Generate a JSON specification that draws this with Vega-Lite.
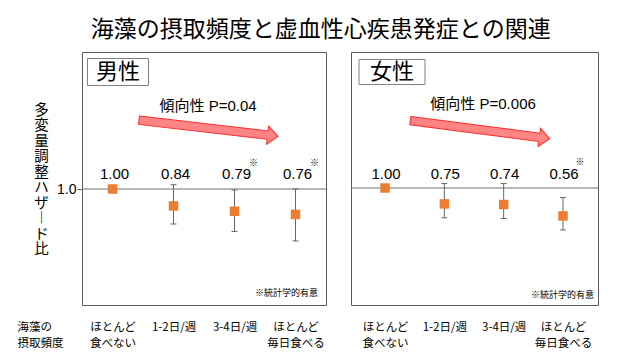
{
  "$schema": "https://vega.github.io/schema/vega-lite/v6.json",
  "padding": {"left": 16, "top": 18, "right": 5, "bottom": 5},
  "title": {"text": "海藻の摂取頻度と虚血性心疾患発症との関連", "fontSize": 23, "fontWeight": "normal", "font": "Noto Sans CJK JP", "color": "black", "anchor": "middle", "offset": 10, "dx": 13},
  "spacing": 23,
  "config": {"font": "Noto Sans CJK JP", "view": {"stroke": "#5a5a5a", "strokeWidth": 1}},
  "hconcat": [
    {
      "width": 244, "height": 253,
      "data": {"values": [
        {"idx": 1, "hr": 1.00, "lo": null, "hi": null, "sig": false},
        {"idx": 2, "hr": 0.84, "lo": 0.67, "hi": 1.04, "sig": false},
        {"idx": 3, "hr": 0.79, "lo": 0.60, "hi": 0.99, "sig": true},
        {"idx": 4, "hr": 0.76, "lo": 0.51, "hi": 1.00, "sig": true}
      ]},
      "layer": [
        {"data": {"values": [{"ref": 1}]}, "mark": {"type": "rule", "color": "#707070", "strokeWidth": 1},
         "encoding": {"y": {"field": "ref", "type": "quantitative", "scale": {"domain": [-0.0943, 2.2925], "nice": false, "zero": false}}}},
        {"mark": {"type": "rule", "color": "#666666", "strokeWidth": 1},
         "encoding": {"x": {"field": "idx", "type": "quantitative", "scale": {"domain": [0.5, 4.5], "nice": false, "zero": false}},
                      "y": {"field": "lo", "type": "quantitative", "scale": {"domain": [-0.0943, 2.2925], "nice": false, "zero": false}},
                      "y2": {"field": "hi"}}},
        {"mark": {"type": "point", "shape": "M-1,0L1,0", "size": 36, "filled": false, "color": "#666666", "strokeWidth": 1, "opacity": 1},
         "encoding": {"x": {"field": "idx", "type": "quantitative", "scale": {"domain": [0.5, 4.5], "nice": false, "zero": false}},
                      "y": {"field": "lo", "type": "quantitative", "scale": {"domain": [-0.0943, 2.2925], "nice": false, "zero": false}}}},
        {"mark": {"type": "point", "shape": "M-1,0L1,0", "size": 36, "filled": false, "color": "#666666", "strokeWidth": 1, "opacity": 1},
         "encoding": {"x": {"field": "idx", "type": "quantitative", "scale": {"domain": [0.5, 4.5], "nice": false, "zero": false}},
                      "y": {"field": "hi", "type": "quantitative", "scale": {"domain": [-0.0943, 2.2925], "nice": false, "zero": false}}}},
        {"mark": {"type": "point", "shape": "square", "size": 90, "filled": true, "color": "#ED7D31", "opacity": 1},
         "encoding": {
           "x": {"field": "idx", "type": "quantitative", "scale": {"domain": [0.5, 4.5], "nice": false, "zero": false},
                 "axis": {"values": [1, 2, 3, 4], "labelExpr": "[['ほとんど','食べない'],'1-2日/週','3-4日/週',['ほとんど','毎日食べる']][datum.value-1]",
                          "labelFont": "Noto Sans CJK JP", "labelFontSize": 11.5, "labelLineHeight": 16.5, "labelColor": "black", "labelPadding": 16, "labelFlush": false, "labelOverlap": false, "labelBound": false,
                          "ticks": false, "tickSize": 0, "domain": false, "grid": false,
                          "title": ["海藻の", "摂取頻度"], "titleX": -65, "titleY": 16, "titleAlign": "left", "titleBaseline": "top", "titleFont": "Noto Sans CJK JP", "titleFontSize": 11.5, "titleFontWeight": "normal", "titleLineHeight": 16.5, "titleColor": "black"}},
           "y": {"field": "hr", "type": "quantitative", "scale": {"domain": [-0.0943, 2.2925], "nice": false, "zero": false},
                 "axis": {"values": [1], "format": ".1f", "labelFont": "Liberation Sans", "labelFontSize": 14, "labelColor": "black", "labelPadding": 1, "tickSize": 5, "tickColor": "#666666", "domain": false, "grid": false,
                          "title": ["多", "変", "量", "調", "整", "ハ", "ザ", "︱", "ド", "比"], "titleAngle": 0, "titleX": -41, "titleY": 58, "titleBaseline": "middle", "titleAlign": "center", "titleFont": "Noto Sans CJK JP", "titleFontSize": 14.5, "titleLineHeight": 15.5, "titleFontWeight": "normal", "titleColor": "black"}}}},
        {"mark": {"type": "text", "font": "Liberation Sans", "fontSize": 15, "color": "black", "baseline": "middle", "align": "center", "dx": 2},
         "encoding": {"x": {"field": "idx", "type": "quantitative", "scale": {"domain": [0.5, 4.5], "nice": false, "zero": false}},
                      "y": {"datum": 1.1415, "type": "quantitative", "scale": {"domain": [-0.0943, 2.2925], "nice": false, "zero": false}},
                      "text": {"field": "hr", "type": "quantitative", "format": ".2f"}}},
        {"transform": [{"filter": "datum.sig"}],
         "mark": {"type": "text", "fontSize": 9, "color": "black", "baseline": "middle", "align": "center", "dx": 19, "dy": -11},
         "encoding": {"x": {"field": "idx", "type": "quantitative", "scale": {"domain": [0.5, 4.5], "nice": false, "zero": false}},
                      "y": {"datum": 1.1415, "type": "quantitative", "scale": {"domain": [-0.0943, 2.2925], "nice": false, "zero": false}},
                      "text": {"value": "※"}}},
        {"data": {"values": [{"sex": "男性"}]},
         "mark": {"type": "point", "shape": "M-1,-0.443H1V0.443H-1Z", "size": 3721, "filled": true, "fill": "white", "stroke": "#808080", "strokeWidth": 1, "opacity": 1},
         "encoding": {"x": {"datum": 1.09, "type": "quantitative", "scale": {"domain": [0.5, 4.5], "nice": false, "zero": false}},
                      "y": {"datum": 2.104, "type": "quantitative", "scale": {"domain": [-0.0943, 2.2925], "nice": false, "zero": false}}}},
        {"data": {"values": [{"sex": "男性"}]},
         "mark": {"type": "text", "fontSize": 22, "color": "black", "baseline": "middle", "align": "center"},
         "encoding": {"x": {"datum": 1.09, "type": "quantitative", "scale": {"domain": [0.5, 4.5], "nice": false, "zero": false}},
                      "y": {"datum": 2.104, "type": "quantitative", "scale": {"domain": [-0.0943, 2.2925], "nice": false, "zero": false}},
                      "text": {"field": "sex"}}},
        {"data": {"values": [{"trend": "傾向性 P=0.04"}]},
         "mark": {"type": "point", "shape": "M-1,-0.06L0.85,-0.06L0.85,-0.13L1,0L0.85,0.13L0.85,0.06L-1,0.06Z", "size": 19600, "angle": 6.6, "filled": true, "fill": "#FF8585", "stroke": "#FF2A2A", "strokeWidth": 1, "opacity": 1},
         "encoding": {"x": {"datum": 2.574, "type": "quantitative", "scale": {"domain": [0.5, 4.5], "nice": false, "zero": false}},
                      "y": {"datum": 1.5726, "type": "quantitative", "scale": {"domain": [-0.0943, 2.2925], "nice": false, "zero": false}}}},
        {"data": {"values": [{"trend": "傾向性 P=0.04"}]},
         "mark": {"type": "text", "font": "Liberation Sans, Noto Sans CJK JP", "fontSize": 15, "color": "black", "baseline": "middle", "align": "center"},
         "encoding": {"x": {"datum": 2.566, "type": "quantitative", "scale": {"domain": [0.5, 4.5], "nice": false, "zero": false}},
                      "y": {"datum": 1.783, "type": "quantitative", "scale": {"domain": [-0.0943, 2.2925], "nice": false, "zero": false}},
                      "text": {"field": "trend"}}},
        {"data": {"values": [{"note": "※統計学的有意"}]},
         "mark": {"type": "text", "fontSize": 9, "color": "black", "baseline": "middle", "align": "right"},
         "encoding": {"x": {"datum": 4.369, "type": "quantitative", "scale": {"domain": [0.5, 4.5], "nice": false, "zero": false}},
                      "y": {"datum": 0.019, "type": "quantitative", "scale": {"domain": [-0.0943, 2.2925], "nice": false, "zero": false}},
                      "text": {"field": "note"}}}
      ]
    },
    {
      "width": 247, "height": 253,
      "data": {"values": [
        {"idx": 1, "hr": 1.00, "lo": null, "hi": null, "sig": false},
        {"idx": 2, "hr": 0.75, "lo": 0.53, "hi": 1.07, "sig": false},
        {"idx": 3, "hr": 0.74, "lo": 0.52, "hi": 1.07, "sig": false},
        {"idx": 4, "hr": 0.56, "lo": 0.34, "hi": 0.85, "sig": true}
      ]},
      "layer": [
        {"data": {"values": [{"ref": 1}]}, "mark": {"type": "rule", "color": "#707070", "strokeWidth": 1},
         "encoding": {"y": {"field": "ref", "type": "quantitative", "scale": {"domain": [-0.8425, 3.142], "nice": false, "zero": false}, "axis": null}}},
        {"mark": {"type": "rule", "color": "#666666", "strokeWidth": 1},
         "encoding": {"x": {"field": "idx", "type": "quantitative", "scale": {"domain": [0.4266, 4.59], "nice": false, "zero": false}},
                      "y": {"field": "lo", "type": "quantitative", "scale": {"domain": [-0.8425, 3.142], "nice": false, "zero": false}, "axis": null},
                      "y2": {"field": "hi"}}},
        {"mark": {"type": "point", "shape": "M-1,0L1,0", "size": 36, "filled": false, "color": "#666666", "strokeWidth": 1, "opacity": 1},
         "encoding": {"x": {"field": "idx", "type": "quantitative", "scale": {"domain": [0.4266, 4.59], "nice": false, "zero": false}},
                      "y": {"field": "lo", "type": "quantitative", "scale": {"domain": [-0.8425, 3.142], "nice": false, "zero": false}, "axis": null}}},
        {"mark": {"type": "point", "shape": "M-1,0L1,0", "size": 36, "filled": false, "color": "#666666", "strokeWidth": 1, "opacity": 1},
         "encoding": {"x": {"field": "idx", "type": "quantitative", "scale": {"domain": [0.4266, 4.59], "nice": false, "zero": false}},
                      "y": {"field": "hi", "type": "quantitative", "scale": {"domain": [-0.8425, 3.142], "nice": false, "zero": false}, "axis": null}}},
        {"mark": {"type": "point", "shape": "square", "size": 90, "filled": true, "color": "#ED7D31", "opacity": 1},
         "encoding": {
           "x": {"field": "idx", "type": "quantitative", "scale": {"domain": [0.4266, 4.59], "nice": false, "zero": false},
                 "axis": {"values": [1, 2, 3, 4], "labelExpr": "[['ほとんど','食べない'],'1-2日/週','3-4日/週',['ほとんど','毎日食べる']][datum.value-1]",
                          "labelFont": "Noto Sans CJK JP", "labelFontSize": 11.5, "labelLineHeight": 16.5, "labelColor": "black", "labelPadding": 16, "labelFlush": false, "labelOverlap": false, "labelBound": false,
                          "ticks": false, "tickSize": 0, "domain": false, "grid": false, "title": null}},
           "y": {"field": "hr", "type": "quantitative", "scale": {"domain": [-0.8425, 3.142], "nice": false, "zero": false}, "axis": null}}},
        {"mark": {"type": "text", "font": "Liberation Sans", "fontSize": 15, "color": "black", "baseline": "middle", "align": "center", "dx": 1},
         "encoding": {"x": {"field": "idx", "type": "quantitative", "scale": {"domain": [0.4266, 4.59], "nice": false, "zero": false}},
                      "y": {"datum": 1.2205, "type": "quantitative", "scale": {"domain": [-0.8425, 3.142], "nice": false, "zero": false}, "axis": null},
                      "text": {"field": "hr", "type": "quantitative", "format": ".2f"}}},
        {"transform": [{"filter": "datum.sig"}],
         "mark": {"type": "text", "fontSize": 9, "color": "black", "baseline": "middle", "align": "center", "dx": 17, "dy": -12},
         "encoding": {"x": {"field": "idx", "type": "quantitative", "scale": {"domain": [0.4266, 4.59], "nice": false, "zero": false}},
                      "y": {"datum": 1.2205, "type": "quantitative", "scale": {"domain": [-0.8425, 3.142], "nice": false, "zero": false}, "axis": null},
                      "text": {"value": "※"}}},
        {"data": {"values": [{"sex": "女性"}]},
         "mark": {"type": "point", "shape": "M-1,-0.38H1V0.38H-1Z", "size": 4356, "filled": true, "fill": "white", "stroke": "#808080", "strokeWidth": 1, "opacity": 1},
         "encoding": {"x": {"datum": 1.118, "type": "quantitative", "scale": {"domain": [0.4266, 4.59], "nice": false, "zero": false}},
                      "y": {"datum": 2.827, "type": "quantitative", "scale": {"domain": [-0.8425, 3.142], "nice": false, "zero": false}, "axis": null}}},
        {"data": {"values": [{"sex": "女性"}]},
         "mark": {"type": "text", "fontSize": 22, "color": "black", "baseline": "middle", "align": "center"},
         "encoding": {"x": {"datum": 1.118, "type": "quantitative", "scale": {"domain": [0.4266, 4.59], "nice": false, "zero": false}},
                      "y": {"datum": 2.827, "type": "quantitative", "scale": {"domain": [-0.8425, 3.142], "nice": false, "zero": false}, "axis": null},
                      "text": {"field": "sex"}}},
        {"data": {"values": [{"trend": "傾向性 P=0.006"}]},
         "mark": {"type": "point", "shape": "M-1,-0.06L0.85,-0.06L0.85,-0.13L1,0L0.85,0.13L0.85,0.06L-1,0.06Z", "size": 19768, "angle": 7.4, "filled": true, "fill": "#FF8585", "stroke": "#FF2A2A", "strokeWidth": 1, "opacity": 1},
         "encoding": {"x": {"datum": 2.602, "type": "quantitative", "scale": {"domain": [0.4266, 4.59], "nice": false, "zero": false}},
                      "y": {"datum": 1.918, "type": "quantitative", "scale": {"domain": [-0.8425, 3.142], "nice": false, "zero": false}, "axis": null}}},
        {"data": {"values": [{"trend": "傾向性 P=0.006"}]},
         "mark": {"type": "text", "font": "Liberation Sans, Noto Sans CJK JP", "fontSize": 15, "color": "black", "baseline": "middle", "align": "center"},
         "encoding": {"x": {"datum": 2.653, "type": "quantitative", "scale": {"domain": [0.4266, 4.59], "nice": false, "zero": false}},
                      "y": {"datum": 2.318, "type": "quantitative", "scale": {"domain": [-0.8425, 3.142], "nice": false, "zero": false}, "axis": null},
                      "text": {"field": "trend"}}},
        {"data": {"values": [{"note": "※統計学的有意"}]},
         "mark": {"type": "text", "fontSize": 9, "color": "black", "baseline": "middle", "align": "right"},
         "encoding": {"x": {"datum": 4.524, "type": "quantitative", "scale": {"domain": [0.4266, 4.59], "nice": false, "zero": false}},
                      "y": {"datum": -0.68, "type": "quantitative", "scale": {"domain": [-0.8425, 3.142], "nice": false, "zero": false}, "axis": null},
                      "text": {"field": "note"}}}
      ]
    }
  ]
}
